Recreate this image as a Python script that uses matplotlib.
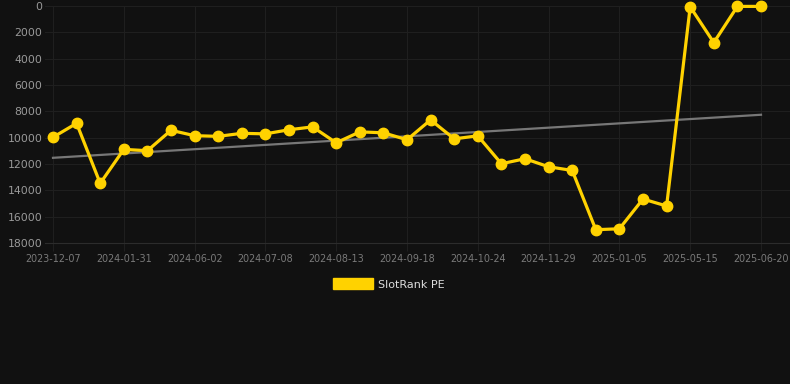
import matplotlib
matplotlib.use("Agg")
import matplotlib.pyplot as plt
from matplotlib.patches import Patch

# data
dates = ["2023-12-07", "", "", "2024-01-31", "", "", "2024-06-02", "", "",
         "2024-07-08", "", "", "2024-08-13", "", "", "2024-09-18", "", "",
         "2024-10-24", "", "", "2024-11-29", "", "", "2025-01-05", "", "",
         "2025-05-15", "", "", "2025-06-20"]
rank = [9970, 8910, 13470, 10890, 10990, 9440, 9850, 9900, 9670, 9710,
        9400, 9180, 10390, 9560, 9630, 10160, 8650, 10090, 9860, 11980,
        11600, 12210, 12490, 16990, 16920, 14660, 15190, 60, 2780, 30, 30]
trend_ends = [11530, 8260]
y_ticks = [0, 2000, 4000, 6000, 8000, 10000, 12000, 14000, 16000, 18000]

BG = "#111111"
GRID = "#1f1f1f"
YELLOW = "#FFD200"

W, H = 790, 384
fig = plt.figure(figsize=(W / 100, H / 100), dpi=100, facecolor=BG)
# plot area runs past the first/last point like the original grid does
ax = fig.add_axes([45 / W, 1 - 243 / H, (790 - 45) / W, (243 - 6) / H])
ax.set_facecolor(BG)

n = len(rank)
step = (761 - 53) / (n - 1)
x = list(range(n))
ax.plot([0, n - 1], trend_ends, color="#777777", lw=1.6, zorder=2)
ax.plot(x, rank, color=YELLOW, lw=2.3, marker="o", ms=7.5,
        clip_on=False, zorder=3)

ax.set_ylim(18000, 0)
ax.set_xlim(-8 / step, (n - 1) + 29 / step)
ax.set_yticks(y_ticks)
ax.set_yticklabels([str(v) for v in y_ticks])
tick_idx = [i for i, d in enumerate(dates) if d]
ax.set_xticks(tick_idx)
ax.set_xticklabels([dates[i] for i in tick_idx])

ax.grid(True, color=GRID, lw=0.8)
ax.set_axisbelow(True)
for s in ax.spines.values():
    s.set_visible(False)
ax.spines["bottom"].set_visible(True)
ax.spines["bottom"].set_color("#2c2c2c")
ax.spines["bottom"].set_linewidth(0.8)
ax.tick_params(axis="y", colors=GRID, length=0, pad=2, labelsize=7.8,
               labelcolor="#9a9a9a")
ax.tick_params(axis="x", colors=GRID, length=6, width=0.8, pad=2,
               labelsize=6.9, labelcolor="#7a7a7a")

leg = fig.legend(handles=[Patch(facecolor=YELLOW, edgecolor=YELLOW,
                                label="SlotRank PE")],
                 loc="center", bbox_to_anchor=(389 / W, 1 - 284 / H),
                 frameon=False, fontsize=8, handlelength=3.6,
                 handleheight=1.1, handletextpad=0.5)
for t in leg.get_texts():
    t.set_color("#dddddd")

fig.savefig("out.png", dpi=100, facecolor=BG)
